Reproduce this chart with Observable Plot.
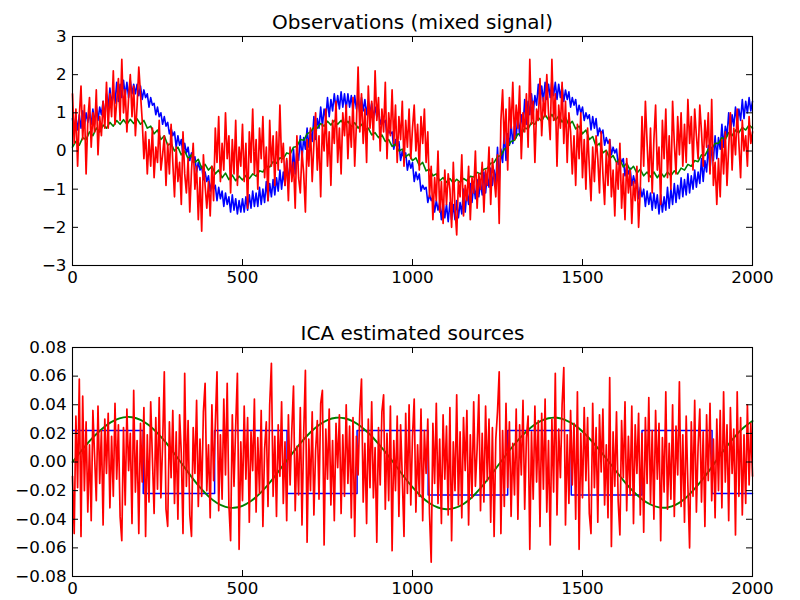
<!DOCTYPE html>
<html>
<head>
<meta charset="utf-8">
<script src="https://cdn.jsdelivr.net/npm/d3@7"></script>
<script src="https://cdn.jsdelivr.net/npm/@observablehq/plot@0.6"></script>
<style>
  html, body { margin: 0; padding: 0; background: white; }
  #chart svg { display: block; }
</style>
</head>
<body>
<div id="chart"></div>
<script>
// ---- tick labels ----
const xTicks = [0, 500, 1000, 1500, 2000];
const yTicksTop = [-3, -2, -1, 0, 1, 2, 3];
const yTicksBottom = [-0.08, -0.06, -0.04, -0.02, 0, 0.02, 0.04, 0.06, 0.08];

// ---- sample positions (signal index) ----
const samples5 = d3.range(0, 2001, 5);
const samples10 = d3.range(0, 2001, 10);
const samples25 = d3.range(0, 2001, 25);

// ---- Observations (mixed signal) ----
const obsBlue = [
  0.85, 0.45, 0.9, 0.55, 0.95, 0.6, 1.05, 0.65, 1.0, 0.75, 1.0, 0.7, 1.1, 0.7, 1.2, 0.8, 1.15, 0.95, 1.3, 0.85,
  1.5, 1.15, 1.65, 1.2, 1.6, 1.25, 1.8, 1.3, 1.75, 1.4, 1.85, 1.45, 1.8, 1.4, 1.85, 1.5, 1.75, 1.5, 1.75, 1.45,
  1.7, 1.35, 1.6, 1.4, 1.5, 1.15, 1.4, 1.2, 1.25, 0.95, 1.15, 0.9, 1.0, 0.7, 0.9, 0.65, 0.75, 0.45, 0.6, 0.4,
  0.5, 0.1, 0.4, 0.15, 0.3, -0.1, 0.2, -0.05, 0.1, -0.25, -0.05, -0.3, -0.15, -0.55, -0.3, -0.5, -0.4, -0.75, -0.55, -0.8,
  -0.65, -1.05, -0.8, -1.0, -0.9, -1.3, -0.95, -1.25, -1.05, -1.45, -1.1, -1.4, -1.2, -1.6, -1.15, -1.55, -1.25, -1.65, -1.3, -1.6,
  -1.25, -1.6, -1.2, -1.55, -1.15, -1.5, -1.05, -1.45, -1.1, -1.45, -0.95, -1.4, -1.0, -1.35, -0.8, -1.3, -0.85, -1.2, -0.75, -1.15,
  -0.7, -1.05, -0.5, -1.0, -0.55, -0.9, -0.25, -0.85, -0.3, -0.65, 0.05, -0.6, 0.0, -0.25, 0.4, -0.2, 0.35, 0.05, 0.6, 0.1,
  0.55, 0.25, 0.9, 0.3, 0.85, 0.6, 1.15, 0.65, 1.1, 0.85, 1.4, 0.9, 1.35, 1.05, 1.5, 1.1, 1.45, 1.1, 1.55, 1.15,
  1.5, 1.1, 1.5, 1.15, 1.45, 1.05, 1.45, 1.1, 1.4, 1.0, 1.4, 1.05, 1.35, 0.95, 1.3, 1.0, 1.25, 0.85, 1.15, 0.9,
  1.1, 0.7, 0.85, 0.75, 0.8, 0.4, 0.55, 0.45, 0.5, 0.05, 0.3, 0.1, 0.25, -0.25, 0.0, -0.2, -0.05, -0.5, -0.25, -0.45,
  -0.3, -0.8, -0.55, -0.75, -0.6, -1.05, -0.9, -1.0, -0.95, -1.35, -1.15, -1.3, -1.2, -1.6, -1.3, -1.55, -1.35, -1.8, -1.35, -1.75,
  -1.4, -1.85, -1.35, -1.8, -1.4, -1.8, -1.3, -1.75, -1.35, -1.65, -1.0, -1.6, -1.05, -1.4, -0.85, -1.35, -0.9, -1.25, -0.75, -1.2,
  -0.8, -1.15, -0.55, -1.1, -0.6, -0.95, -0.45, -0.9, -0.5, -0.85, 0.1, -0.8, 0.05, -0.3, 0.5, -0.25, 0.45, 0.15, 0.7, 0.2,
  0.65, 0.35, 1.0, 0.4, 0.95, 0.65, 1.35, 0.7, 1.3, 0.95, 1.5, 1.0, 1.45, 1.2, 1.75, 1.25, 1.7, 1.3, 1.8, 1.35,
  1.75, 1.4, 1.85, 1.45, 1.8, 1.35, 1.75, 1.4, 1.7, 1.3, 1.6, 1.35, 1.55, 1.15, 1.4, 1.2, 1.35, 0.95, 1.2, 1.0,
  1.15, 0.8, 1.0, 0.85, 0.95, 0.55, 0.9, 0.6, 0.85, 0.4, 0.6, 0.45, 0.55, 0.15, 0.35, 0.2, 0.3, -0.1, 0.1, -0.05,
  0.05, -0.35, -0.15, -0.3, -0.2, -0.65, -0.4, -0.6, -0.45, -0.9, -0.65, -0.85, -0.7, -1.25, -0.95, -1.2, -1.0, -1.45, -1.05, -1.4,
  -1.1, -1.55, -1.1, -1.5, -1.15, -1.65, -1.15, -1.6, -1.2, -1.55, -0.95, -1.5, -1.0, -1.4, -0.85, -1.35, -0.9, -1.25, -0.7, -1.2,
  -0.75, -1.15, -0.6, -1.1, -0.65, -1.0, -0.5, -0.95, -0.55, -0.85, -0.2, -0.8, -0.25, -0.55, 0.15, -0.5, 0.1, -0.25, 0.4, -0.2,
  0.35, 0.05, 0.7, 0.1, 0.65, 0.4, 1.0, 0.45, 0.95, 0.65, 1.15, 0.7, 1.1, 0.8, 1.35, 0.85, 1.3, 1.0, 1.4, 1.05,
  1.3
];
const obsGreen = [
  0.1, 0.25, 0.15, 0.35, 0.3, 0.5, 0.4, 0.6, 0.5, 0.68,
  0.6, 0.75, 0.65, 0.8, 0.7, 0.82, 0.7, 0.83, 0.72, 0.84,
  0.7, 0.8, 0.6, 0.65, 0.45, 0.55, 0.3, 0.4, 0.15, 0.2,
  0.0, 0.1, -0.1, 0.0, -0.2, -0.1, -0.3, -0.22, -0.45, -0.35,
  -0.5, -0.4, -0.6, -0.5, -0.7, -0.58, -0.75, -0.63, -0.78, -0.66,
  -0.76, -0.64, -0.72, -0.6, -0.66, -0.52, -0.55, -0.4, -0.42, -0.28,
  -0.32, -0.18, -0.2, -0.05, -0.08, 0.1, 0.12, 0.3, 0.28, 0.45,
  0.5, 0.62, 0.6, 0.72, 0.65, 0.78, 0.68, 0.8, 0.7, 0.8,
  0.68, 0.78, 0.64, 0.74, 0.6, 0.7, 0.55, 0.6, 0.42, 0.48,
  0.35, 0.42, 0.25, 0.3, 0.12, 0.18, 0.0, 0.05, -0.15, -0.08,
  -0.25, -0.18, -0.38, -0.3, -0.52, -0.48, -0.65, -0.6, -0.78, -0.7,
  -0.82, -0.72, -0.84, -0.74, -0.82, -0.72, -0.78, -0.66, -0.68, -0.56,
  -0.6, -0.48, -0.45, -0.32, -0.3, -0.15, -0.12, 0.05, 0.1, 0.25,
  0.28, 0.45, 0.42, 0.6, 0.58, 0.75, 0.7, 0.88, 0.78, 0.95,
  0.82, 0.96, 0.8, 0.92, 0.76, 0.88, 0.68, 0.78, 0.58, 0.65,
  0.45, 0.55, 0.3, 0.38, 0.12, 0.2, -0.05, 0.02, -0.2, -0.12,
  -0.3, -0.22, -0.42, -0.32, -0.5, -0.4, -0.58, -0.48, -0.65, -0.55,
  -0.68, -0.55, -0.7, -0.56, -0.68, -0.55, -0.65, -0.52, -0.6, -0.45,
  -0.5, -0.35, -0.4, -0.25, -0.28, -0.1, -0.12, 0.05, 0.05, 0.2,
  0.2, 0.35, 0.3, 0.48, 0.4, 0.55, 0.48, 0.62, 0.55, 0.68,
  0.6
];
const obsRed = [
  1.5, 0.2, 1.1, -0.4, 0.9, 1.7, 0.3, 1.2, -0.6, 0.8, 1.4, 0.1, 1.0, 0.5, 1.6, -0.1, 0.9, 0.4, 1.3, 0.6,
  1.8, 0.6, 1.5, 0.9, 2.1, 0.7, 1.3, 1.9, 0.8, 2.4, 1.0, 1.6, 0.5, 1.4, 2.0, 0.9, 1.7, 0.4, 1.2, 2.2,
  1.5, 0.8, -0.2, 0.5, -0.6, 0.3, -0.4, 0.6, -0.7, 0.1, -0.3, 0.8, -0.5, -0.1, 0.4, -0.9, 0.2, -0.6, 0.7, -0.3,
  -1.2, 0.1, -0.8, -0.3, -1.4, 0.5, -0.6, -1.1, -0.2, -1.6, -0.5, 0.2, -1.0, -0.4, -1.8, -0.7, -2.1, -0.1, -0.9, -1.5,
  -0.8, -1.7, -0.4, -1.3, 0.6, -0.3, 0.9, -0.8, 0.2, -0.5, 1.0, -0.2, 0.4, -1.1, 0.3, -0.6, 0.8, -0.9, 0.1, -0.4,
  0.7, -0.8, 0.2, -1.5, 0.5, -0.3, 1.1, -0.6, 0.3, -1.0, 0.6, -0.2, 0.9, -0.7, 0.1, -1.3, 0.8, -0.4, 0.4, -0.9,
  0.5, -0.5, 1.2, -0.3, 0.2, -0.9, -0.2, -1.3, 0.1, -0.8, -0.3, -1.5, 0.4, -0.7, -1.1, 0.0, -0.6, -1.6, 0.3, -0.4,
  0.6, -0.8, 0.2, 1.0, -0.5, 0.4, -1.2, 0.7, 0.0, 1.1, -0.4, 0.5, -0.9, 0.8, 0.2, 1.3, -0.3, 0.6, -0.6, 1.0,
  0.4, 1.2, -0.2, 0.9, 0.1, 1.4, -0.4, 0.7, 2.2, 0.5, 1.5, 0.2, 1.1, -0.3, 1.7, 0.6, 1.3, 0.3, 2.1, 0.8,
  1.4, 0.0, 1.1, 0.5, 1.8, -0.2, 1.0, 0.4, 1.6, 0.2, 1.2, -0.3, 0.9, 0.3, 1.3, -0.4, 0.8, 0.1, 1.1, -0.2,
  0.6, 1.2, 0.0, 0.7, -0.5, 0.9, 0.2, 1.1, -0.3, 0.5, -1.2, -0.4, -1.8, -0.7, -1.3, 0.0, -1.6, -0.8, -1.9, -0.5,
  -1.4, -0.6, -1.0, -2.0, -0.3, -1.5, -2.2, -0.8, -1.2, -0.1, -1.7, -0.9, -1.3, -0.4, -1.8, -0.7, -1.1, 0.0, -1.5, -0.6,
  -1.0, -0.3, -1.6, -0.5, -0.9, 0.1, -1.4, -0.2, -0.7, -1.2, -0.1, -1.9, 0.8, 1.6, 0.2, 1.1, -0.5, 1.4, 0.6, 1.8,
  0.3, 1.2, 0.6, 1.7, -0.2, 1.0, 0.5, 1.5, 0.1, 2.4, 0.7, 1.3, -0.3, 1.1, 0.8, 1.9, 0.4, 1.4, 0.9, 2.0,
  1.0, 0.3, 2.4, 0.8, 1.5, -0.4, 1.2, 0.6, 1.8, 0.2, 1.3, -0.3, 1.0, 0.5, -0.6, 0.4, -0.9, 0.7, -0.2, 1.0,
  -0.7, 0.3, -1.0, 0.6, -0.4, -1.3, 0.1, -0.8, 0.4, -0.2, -1.1, 0.5, -0.6, -1.4, 0.0, -0.9, 0.3, -1.2, -0.5, -1.7,
  -0.3, -1.0, 0.2, -1.5, -0.6, -1.8, -0.2, -1.1, -0.5, -1.9, -0.8, -1.3, -0.4, -2.0, -1.0, 0.9, -0.4, 1.3, 0.2, -0.8,
  0.6, -1.1, 0.3, 1.2, -0.5, 0.1, -1.4, 0.8, -0.2, 1.1, -0.7, 0.4, -1.0, 1.3, 0.2, -0.6, 0.9, -0.1, 1.0, -0.4,
  0.7, -0.3, 1.35, 0.2, 0.9, -0.5, 1.1, 0.4, -0.2, 1.2, 0.5, -0.4, 0.8, 0.1, 1.0, -0.6, 1.35, -0.9, -0.3, -1.4,
  -0.2, -1.2, 0.3, -0.6, 0.5, -0.9, 0.1, 1.0, -0.5, 0.6, -0.1, 1.1, 0.2, -0.7, 0.8, 0.0, 0.4, -0.4, 0.9, 0.2,
  0.5
];

// ---- ICA estimated sources ----
const icaBlueStart = [0, 208, 418, 631, 837, 1046, 1280, 1467, 1675, 1881, 2000];
const icaBlueLevel = [0.022, -0.022, 0.022, -0.022, 0.022, -0.023, 0.022, -0.023, 0.022, -0.022, -0.022];
const icaGreen = [
  0, 0.0075, 0.0146, 0.0206, 0.0257, 0.0292, 0.0312, 0.0313, 0.0295, 0.0257,
  0.0202, 0.0135, 0.0058, -0.0023, -0.0104, -0.0178, -0.0240, -0.0286, -0.0313, -0.0320,
  -0.0306, -0.0273, -0.0223, -0.0159, -0.0085, -0.0006, 0.0071, 0.0144, 0.0208, 0.0259,
  0.0293, 0.0309, 0.0306, 0.0284, 0.0245, 0.0192, 0.0127, 0.0055, -0.0023, -0.0103,
  -0.0176, -0.0239, -0.0288, -0.0318, -0.0330, -0.0321, -0.0293, -0.0246, -0.0183, -0.0110,
  -0.0030, 0.0049, 0.0124, 0.0190, 0.0245, 0.0284, 0.0306, 0.0309, 0.0293, 0.0261,
  0.0213, 0.0152, 0.0083, 0.0009, -0.0068, -0.0142, -0.0207, -0.0260, -0.0297, -0.0317,
  -0.0318, -0.0298, -0.0258, -0.0200, -0.0130, -0.0053, 0.0032, 0.0111, 0.0183, 0.0243,
  0.0287
];
const icaRed = [
  -.01, -.05, .032, -.018, .058, -.052, .046, -.02, .028, -.035, .012, -.041, .036, .004, -.027, .039, -.015, .022, -.044, .03,
  -.008, .034, -.032, .018, -.024, .041, -.012, .026, -.038, -.055, .024, -.03, .037, -.006, .02, -.043, .05, -.021, .015, -.05,
  .027, -.014, .038, -.052, .019, -.028, .042, .003, -.036, .031, -.019, .045, -.025, .012, .063, -.033, -.045, .028, -.011, .036,
  -.029, .021, -.04, .033, .006, -.05, .062, -.017, .029, -.037, -.052, .024, -.008, .043, -.031, .016, -.024, .035, .055, -.02,
  .012, -.039, .04, -.013, .026, .063, -.034, .019, -.026, .044, -.009, .055, -.03, -.055, .033, -.017, .025, .062, -.061, .014,
  -.027, .039, -.012, .031, -.042, .021, -.006, .044, -.035, .017, -.022, .036, -.045, .009, .028, -.031, .04, .069, -.024, .018,
  -.038, .026, -.01, .042, -.029, .014, -.041, .033, -.016, .022, .053, -.034, .011, -.023, .038, -.044, .02, .064, -.056, .016,
  -.02, .035, -.037, .008, .029, -.026, .041, .05, -.058, .023, -.012, .037, -.03, .015, -.041, .027, -.004, .033, -.036, .019,
  -.024, .04, -.015, .025, -.039, .031, -.052, .018, -.009, .036, .058, -.028, .013, -.043, .03, -.018, .042, -.025, .01, -.056,
  .024, -.016, .035, .047, -.033, .02, -.027, .039, -.062, .015, -.02, .032, -.038, .026, -.011, -.052, .034, -.022, .04, -.03,
  .018, .044, -.035, .012, -.024, .037, -.041, .022, -.008, .03, -.036, -.07, .027, -.015, .041, -.029, .016, -.043, .033, -.012,
  .025, -.037, .038, -.055, .014, -.02, .047, -.03, .021, -.039, .031, -.006, .036, -.044, .019, -.025, .042, -.017, .009, .047,
  -.034, .02, -.028, .039, -.013, .03, -.042, .024, -.052, .016, .035, .063, -.05, .022, -.031, .041, -.018, .028, -.038, .013,
  -.023, .037, -.04, .026, -.009, .043, -.033, .017, .032, -.061, .021, -.026, .039, -.014, .029, -.045, .034, -.019, .044, -.035,
  .015, -.058, .03, -.021, .062, -.037, .023, -.011, .04, .066, -.044, .019, -.029, .036, -.016, .027, -.04, .049, -.061, .02,
  -.025, .038, -.013, .031, -.036, -.05, .041, -.018, .024, -.042, .033, -.007, .037, -.03, .012, -.039, .059, -.059, .021, -.017,
  .035, -.028, -.051, .029, -.011, .042, -.034, .018, -.023, .039, -.043, .026, -.008, .034, -.037, .02, -.049, .031, -.015, .045,
  -.029, .022, -.04, .036, -.012, .027, -.055, .017, -.021, .049, -.033, .013, -.026, .04, -.038, .025, -.009, .056, -.031, .019,
  -.042, .032, -.017, -.06, .028, -.024, .043, -.035, .011, .037, -.028, .021, -.045, .033, -.013, .041, -.027, .016, -.039, .03,
  -.02, .036, -.032, .049, -.014, .026, -.041, .038, -.008, .023, -.051, .049, -.024, .031, -.037, .019, -.029, .04, -.016, .027,
  -.01
];

// ---- build tables ----
const pts = (xs, ys) => ys.map((y, i) => ({x: xs[i], y}));
const COLORS = {blue: "#0000ff", green: "#008000", red: "#ff0000"};

function panel({title, series, yDomain, yTicks, yFormat, height, marginTop, marginBottom}) {
  const fh = height - marginTop - marginBottom;
  const fw = 800 - 72 - 48;
  const tick = 6;
  return Plot.plot({
    width: 800,
    height,
    marginLeft: 72,
    marginRight: 48,
    marginTop,
    marginBottom,
    style: {fontFamily: "'DejaVu Sans', sans-serif", fontSize: "16.7px", background: "white", color: "black", overflow: "visible"},
    x: {domain: [0, 2000], label: null},
    y: {domain: yDomain, label: null},
    marks: [
      ...series.map(s => Plot.line(s.data, {x: "x", y: "y", stroke: s.color, strokeWidth: s.width, curve: s.curve || "linear"})),
      Plot.frame({stroke: "black", strokeWidth: 1.1}),
      Plot.tickX(xTicks, {x: d => d, insetTop: fh - tick, stroke: "black"}),
      Plot.tickX(xTicks, {x: d => d, insetBottom: fh - tick, stroke: "black"}),
      Plot.tickY(yTicks, {y: d => d, insetRight: fw - tick, stroke: "black"}),
      Plot.tickY(yTicks, {y: d => d, insetLeft: fw - tick, stroke: "black"}),
      Plot.axisX({ticks: xTicks, tickSize: 0, tickPadding: 6, tickFormat: d3.format("d"), label: null}),
      Plot.axisY({ticks: yTicks, tickSize: 0, tickPadding: 6, tickFormat: yFormat, label: null}),
      Plot.text([title], {frameAnchor: "top", dy: -8, lineAnchor: "bottom", fontSize: 20, fill: "black"})
    ]
  });
}

const topChart = panel({
  title: "Observations (mixed signal)",
  series: [
    {data: pts(samples5, obsBlue), color: COLORS.blue, width: 1.6},
    {data: pts(samples10, obsGreen), color: COLORS.green, width: 1.6},
    {data: pts(samples5, obsRed), color: COLORS.red, width: 1.7}
  ],
  yDomain: [-3, 3],
  yTicks: yTicksTop,
  yFormat: d3.format("d"),
  height: 300,
  marginTop: 36,
  marginBottom: 35
});

const bottomChart = panel({
  title: "ICA estimated sources",
  series: [
    {data: pts(icaBlueStart, icaBlueLevel), color: COLORS.blue, width: 1.5, curve: "step-after"},
    {data: pts(samples25, icaGreen), color: COLORS.green, width: 1.9, curve: "natural"},
    {data: pts(samples5, icaRed), color: COLORS.red, width: 1.7}
  ],
  yDomain: [-0.08, 0.08],
  yTicks: yTicksBottom,
  yFormat: d3.format(".2f"),
  height: 300,
  marginTop: 47,
  marginBottom: 24
});

const root = document.getElementById("chart");
root.appendChild(topChart);
root.appendChild(bottomChart);
</script>
</body>
</html>
